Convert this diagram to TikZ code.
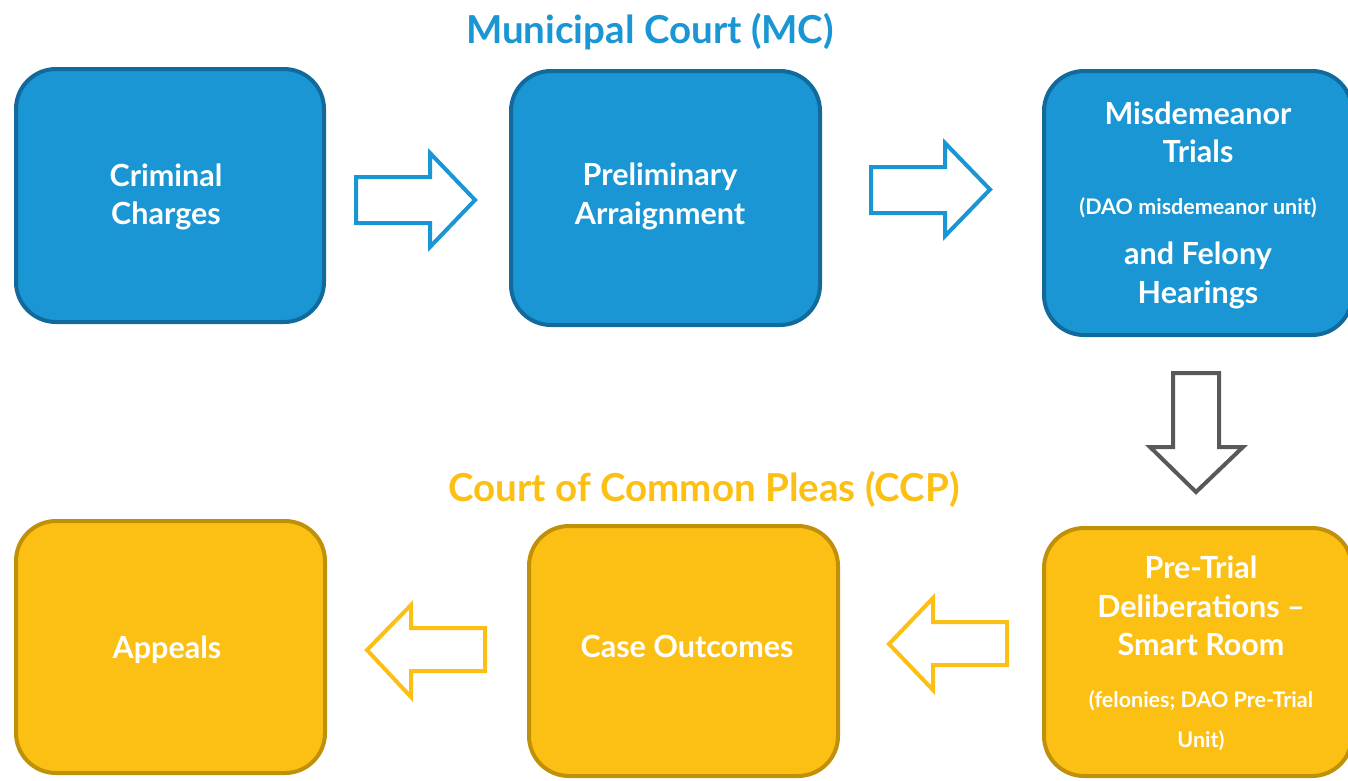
\documentclass[tikz,border=0pt]{standalone}
\usepackage{fontspec}
\setmainfont{Lato}
\definecolor{mcfill}{HTML}{1996D3}
\definecolor{mcline}{HTML}{126A9C}
\definecolor{ccpfill}{HTML}{FCBF14}
\definecolor{ccpline}{HTML}{BF9008}
\definecolor{grayarrow}{HTML}{595959}
\begin{document}
\begin{tikzpicture}[x=1pt,y=-1pt,
  box/.style={rectangle, rounded corners=40pt, line width=4pt, inner sep=0pt},
  mcbox/.style={box, draw=mcline, fill=mcfill},
  ccpbox/.style={box, draw=ccpline, fill=ccpfill},
  txt/.style={text=white, font=\fontsize{30.5}{34}\selectfont\bfseries, inner sep=0pt, anchor=base},
  smalltxt/.style={text=white, font=\fontsize{21.5}{24}\selectfont\bfseries, inner sep=0pt, anchor=base},
  titletxt/.style={font=\fontsize{38.5}{44}\selectfont\bfseries, inner sep=0pt, anchor=base},
  blockarrow/.style={line width=4pt, fill=white, line join=miter, miter limit=10}
]
\useasboundingbox (0,0) rectangle (1348,780);

% titles
\node[titletxt, text=mcfill] (t1) at (650,43) {Municipal Court (MC)};
\node[titletxt, text=ccpfill] (t2) at (704,501) {Court of Common Pleas (CCP)};

% boxes
\node[mcbox, minimum width=308pt, minimum height=253pt] (b1) at (170,195.5) {};
\node[mcbox, minimum width=309pt, minimum height=254pt] (b2) at (665.5,198) {};
\node[mcbox, minimum width=308pt, minimum height=264pt] (b3) at (1198,203) {};
\node[ccpbox, minimum width=308pt, minimum height=248pt] (b4) at (1198,652) {};
\node[ccpbox, minimum width=309pt, minimum height=250pt] (b5) at (683.5,651) {};
\node[ccpbox, minimum width=309pt, minimum height=252pt] (b6) at (170.5,647) {};

% box texts
\node[txt] (l1a) at (166,186) {Criminal};
\node[txt] (l1b) at (166,224) {Charges};
\node[txt] (l2a) at (660,185) {Preliminary};
\node[txt] (l2b) at (660,224) {Arraignment};
\node[txt] (l3a) at (1198,124) {Misdemeanor};
\node[txt] (l3b) at (1198,162) {Trials};
\node[smalltxt] (l3c) at (1198,214) {(DAO misdemeanor unit)};
\node[txt] (l3d) at (1198,264) {and Felony};
\node[txt] (l3e) at (1198,303) {Hearings};
\node[txt] (l4a) at (1201,578) {Pre-Trial};
\node[txt] (l4b) at (1201,617) {Deliberations –};
\node[txt] (l4c) at (1201,655) {Smart Room};
\node[smalltxt] (l4d) at (1201,707) {(felonies; DAO Pre-Trial};
\node[smalltxt] (l4e) at (1201,747) {Unit)};
\node[txt] (l5) at (687,657) {Case Outcomes};
\node[txt] (l6) at (167,658) {Appeals};

% block arrows
\draw[blockarrow, draw=mcfill] (356,177) -- (430,177) -- (430,153) -- (475,200) -- (430,247) -- (430,223) -- (356,223) -- cycle;
\draw[blockarrow, draw=mcfill] (871,167) -- (945,167) -- (945,143) -- (990,189.5) -- (945,236) -- (945,213) -- (871,213) -- cycle;
\draw[blockarrow, draw=grayarrow] (1173,373) -- (1219,373) -- (1219,447) -- (1243,447) -- (1196,492) -- (1150,447) -- (1173,447) -- cycle;
\draw[blockarrow, draw=ccpfill] (1007,622) -- (933,622) -- (933,598) -- (889,644) -- (933,690) -- (933,665) -- (1007,665) -- cycle;
\draw[blockarrow, draw=ccpfill] (485,628) -- (411,628) -- (411,605) -- (367,650) -- (411,697) -- (411,671) -- (485,671) -- cycle;
\end{tikzpicture}
\end{document}
